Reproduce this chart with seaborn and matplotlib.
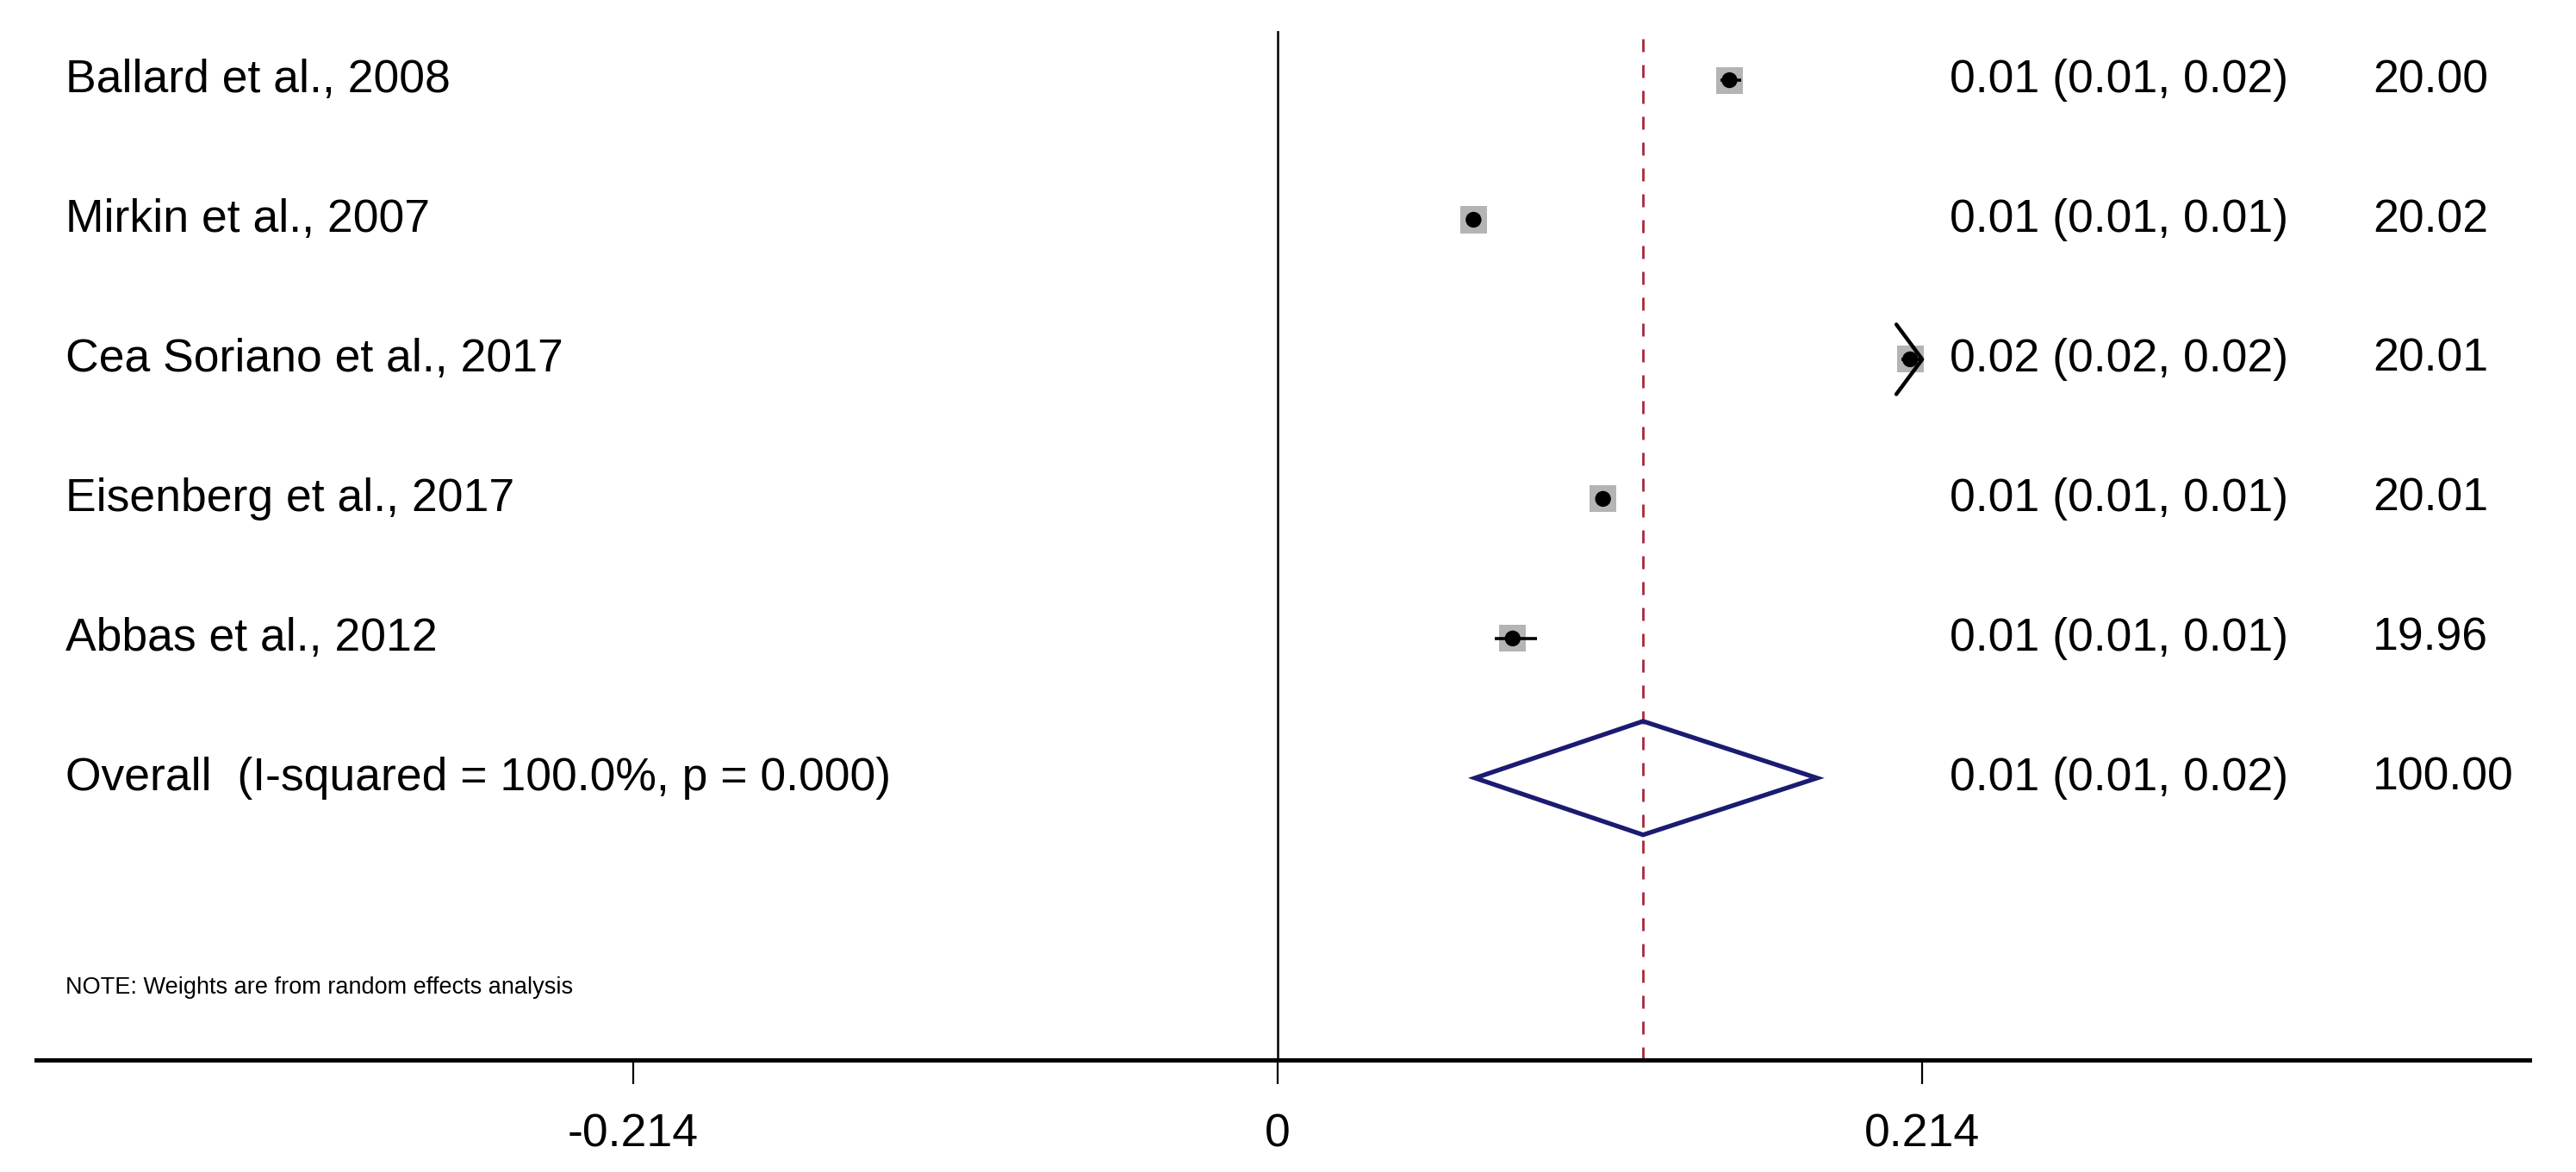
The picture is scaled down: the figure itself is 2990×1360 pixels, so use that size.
import numpy as np
import pandas as pd
import matplotlib
matplotlib.use("Agg")
import matplotlib.pyplot as plt
import seaborn as sns

# study rows (top to bottom)
studies = ["Ballard et al., 2008", "Mirkin et al., 2007", "Cea Soriano et al., 2017",
           "Eisenberg et al., 2017", "Abbas et al., 2012"]
est_text = ["0.01 (0.01, 0.02)", "0.01 (0.01, 0.01)", "0.02 (0.02, 0.02)",
            "0.01 (0.01, 0.01)", "0.01 (0.01, 0.01)"]
weight_text = ["20.00", "20.02", "20.01", "20.01", "19.96"]
weights = [20.00, 20.02, 20.01, 20.01, 19.96]

# positions on the plotted scale
est_plot = [0.150, 0.065, 0.210, 0.108, 0.078]
lo_plot = [0.147, 0.063, 0.207, 0.106, 0.072]
hi_plot = [0.154, 0.067, 0.240, 0.110, 0.086]

overall_label = "Overall  (I-squared = 100.0%, p = 0.000)"
overall_text = "0.01 (0.01, 0.02)"
overall_weight = "100.00"
overall_est = 0.1213
overall_lo = 0.0655
overall_hi = 0.1791

note = "NOTE: Weights are from random effects analysis"
xticks = [-0.214, 0, 0.214]
xticklabels = ["-0.214", "0", "0.214"]
clip_max = 0.214

sns.set_style("white")
plt.rcParams['font.family'] = ['Liberation Sans', 'DejaVu Sans']
plt.rcParams['text.color'] = 'black'

fig = plt.figure(figsize=(29.9, 13.6), dpi=100)
ax = fig.add_axes([0.01405, 0.0956, 0.982 - 0.01405, 0.9735 - 0.0956])
ax.set_xlim(-0.4123, 0.4157)
ax.set_ylim(8.02, 0.648)

rows = np.arange(1, len(studies) + 1)
df = pd.DataFrame({"study": studies, "row": rows, "est": est_plot,
                   "lo": lo_plot, "hi": hi_plot, "w": weights})

# reference lines
ax.axvline(0, color="black", lw=1.8, zorder=1)
ax.axvline(overall_est, color="#a8283a", lw=2, ls=(0, (5.4, 5.4)), zorder=1)

# weight boxes and point estimates
sns.scatterplot(data=df, x="est", y="row", marker="s", s=df["w"] * 25,
                color="#b4b4b4", edgecolor="none", ax=ax, zorder=2, legend=False)
for _, r in df.iterrows():
    ax.plot([r.lo, min(r.hi, clip_max)], [r.row, r.row], color="black", lw=2.6,
            solid_capstyle="butt", zorder=3)
    if r.hi > clip_max:
        ax.plot([clip_max - 0.0086, clip_max, clip_max - 0.0086],
                [r.row - 0.25, r.row, r.row + 0.25], color="black", lw=3.2,
                solid_capstyle="round", zorder=3)
sns.scatterplot(data=df, x="est", y="row", marker="o", s=175, color="black",
                edgecolor="none", ax=ax, zorder=4, legend=False)

# overall diamond
orow = len(studies) + 1
ax.fill([overall_lo, overall_est, overall_hi, overall_est, overall_lo],
        [orow, orow - 0.407, orow, orow + 0.407, orow],
        facecolor="none", edgecolor="#1b1b72", lw=3.8, zorder=3, joinstyle="miter")

# text columns
fs = 38.5
x_lab, x_est, x_w = -0.4025, 0.2232, 0.3636
for i, s in enumerate(studies):
    ax.text(x_lab, rows[i], s, fontsize=fs, va="center", ha="left")
    ax.text(x_est, rows[i], est_text[i], fontsize=fs, va="center", ha="left")
    ax.text(x_w, rows[i], weight_text[i], fontsize=fs, va="center", ha="left")
ax.text(x_lab, orow, overall_label, fontsize=fs, va="center", ha="left")
ax.text(x_est, orow, overall_text, fontsize=fs, va="center", ha="left")
ax.text(x_w, orow, overall_weight, fontsize=fs, va="center", ha="left")
ax.text(x_lab, orow + 1.5, note, fontsize=19.5, va="center", ha="left")

# axes styling
for side in ["top", "right", "left"]:
    ax.spines[side].set_visible(False)
ax.spines["bottom"].set_linewidth(3.6)
ax.spines["bottom"].set_color("black")
ax.set_yticks([])
ax.set_xticks(xticks)
ax.set_xticklabels(xticklabels, fontsize=fs)
ax.tick_params(axis="x", direction="out", length=20, width=1.6, pad=24,
               colors="black", bottom=True)
ax.set_xlabel("")
ax.set_ylabel("")

fig.savefig("out.png", dpi=100, facecolor="white")
